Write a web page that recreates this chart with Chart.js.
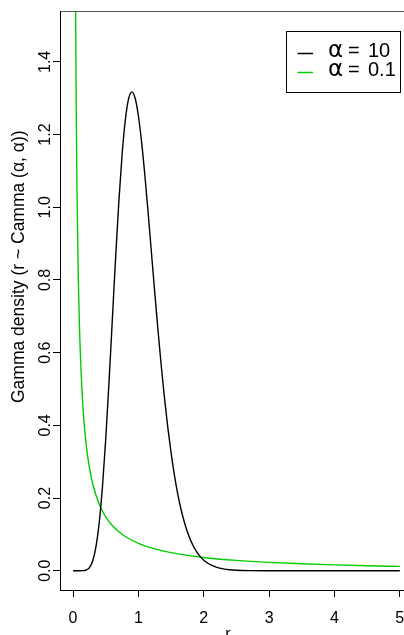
<!DOCTYPE html>
<html>
<head>
<meta charset="utf-8">
<script src="https://cdn.jsdelivr.net/npm/chart.js@4"></script>
<style>
html,body{margin:0;padding:0;background:#fff;overflow:hidden;}
canvas{display:block;}
</style>
</head>
<body>
<canvas id="c" width="404" height="635"></canvas>
<script>
// Data
const xShape10 = [0, 0.05, 0.1, 0.15, 0.2, 0.25, 0.3, 0.35, 0.4, 0.45, 0.5, 0.55, 0.6, 0.65, 0.7, 0.75, 0.8, 0.85, 0.9, 0.95, 1.0, 1.05, 1.1, 1.15, 1.2, 1.25, 1.3, 1.35, 1.4, 1.45, 1.5, 1.55, 1.6, 1.65, 1.7, 1.75, 1.8, 1.85, 1.9, 1.95, 2.0, 2.1, 2.2, 2.3, 2.4, 2.5, 2.7, 3.0, 4.0, 5.0];
const yShape10 = [0, 0, 0.00001, 0.00024, 0.0019, 0.0086, 0.0270, 0.0656, 0.1323, 0.2316, 0.3627, 0.5187, 0.6884, 0.8581, 1.0141, 1.1444, 1.2408, 1.2987, 1.3176, 1.3000, 1.2511, 1.1772, 1.0853, 0.9820, 0.8736, 0.7651, 0.6606, 0.5627, 0.4734, 0.3938, 0.3241, 0.2640, 0.2131, 0.1705, 0.1353, 0.1065, 0.0833, 0.0646, 0.0498, 0.0382, 0.0291, 0.0166, 0.0093, 0.0051, 0.0028, 0.0015, 0.0004, 0.0001, 0, 0];
const xShape01 = [0.02, 0.03, 0.035, 0.04, 0.05, 0.06, 0.08, 0.1, 0.15, 0.2, 0.25, 0.3, 0.4, 0.5, 0.6, 0.7, 0.8, 1.0, 1.25, 1.5, 2.0, 2.5, 3.0, 3.5, 4.0, 4.5, 5.0];
const yShape01 = [2.817, 1.953, 1.700, 1.507, 1.231, 1.044, 0.804, 0.657, 0.4535, 0.3483, 0.2836, 0.2394, 0.1830, 0.1482, 0.1245, 0.1073, 0.0942, 0.0755, 0.0603, 0.0499, 0.0366, 0.0285, 0.0230, 0.0191, 0.0161, 0.0138, 0.0119];
const seriesLabels = ["10", "0.1"];
const seriesColors = ["#000000", "#00CD00"];
const xTicks = [0, 1, 2, 3, 4, 5];
const yTicks = [0.0, 0.2, 0.4, 0.6, 0.8, 1.0, 1.2, 1.4];
const yTitle = "Gamma density (r ~ Camma (\u03B1, \u03B1))";
const xTitle = "r";

const FONT = "'Liberation Sans', Arial, Helvetica, sans-serif";

function pts(xs, ys) { return xs.map((x, i) => ({ x: x, y: ys[i] })); }

function noPad(s) { s.paddingLeft = 0; s.paddingRight = 0; s.paddingTop = 0; s.paddingBottom = 0; }

const decor = {
  id: 'decor',
  afterDraw(chart) {
    const ctx = chart.ctx;
    const ca = chart.chartArea;
    const ys = chart.scales.y;
    ctx.save();
    // plot box: top and left
    ctx.strokeStyle = '#555';
    ctx.lineWidth = 1;
    ctx.beginPath();
    ctx.moveTo(ca.left, ca.top + 0.5);
    ctx.lineTo(chart.width, ca.top + 0.5);
    ctx.stroke();
    ctx.strokeStyle = '#000';
    ctx.beginPath();
    ctx.moveTo(ca.left + 0.5, ca.top);
    ctx.lineTo(ca.left + 0.5, ca.bottom);
    ctx.stroke();

    // y tick labels, rotated
    ctx.fillStyle = '#000';
    ctx.font = '16px ' + FONT;
    ctx.textAlign = 'center';
    ctx.textBaseline = 'alphabetic';
    yTicks.forEach(v => {
      const py = ys.getPixelForValue(v);
      ctx.save();
      ctx.translate(50, py);
      ctx.rotate(-Math.PI / 2);
      ctx.fillText(v.toFixed(1), 0, 0);
      ctx.restore();
    });
    // y title
    ctx.save();
    ctx.translate(24, 403);
    ctx.rotate(-Math.PI / 2);
    ctx.textAlign = 'left';
    ctx.font = '17.5px ' + FONT;
    ctx.fillText(yTitle, 0, 0);
    ctx.restore();
    // x title
    ctx.font = '16px ' + FONT;
    ctx.textAlign = 'center';
    ctx.fillText(xTitle, 228, 639);

    // legend
    const lx = 286, ly = 31, lw = 114, lh = 61;
    ctx.fillStyle = '#fff';
    ctx.fillRect(lx, ly, lw, lh);
    ctx.strokeStyle = '#000';
    ctx.lineWidth = 1;
    ctx.strokeRect(lx + 0.5, ly + 0.5, lw, lh);
    const rows = [53.5, 72.5];
    rows.forEach((ry, i) => {
      ctx.strokeStyle = seriesColors[i];
      ctx.lineWidth = 1.5;
      ctx.beginPath();
      ctx.moveTo(297.5, ry);
      ctx.lineTo(313, ry);
      ctx.stroke();
      ctx.fillStyle = '#000';
      ctx.textAlign = 'left';
      ctx.font = "23px 'DejaVu Sans', sans-serif";
      ctx.fillText('\u03B1', 328, ry + 3);
      ctx.font = '20px ' + FONT;
      ctx.fillText('=', 348, ry + 3);
      ctx.fillText(seriesLabels[i], 368, ry + 3);
    });
    ctx.restore();
  }
};

new Chart(document.getElementById('c'), {
  type: 'line',
  data: {
    datasets: [
      { label: '\u03B1 = ' + seriesLabels[0], data: pts(xShape10, yShape10), borderColor: seriesColors[0], borderWidth: 1.4, pointRadius: 0, cubicInterpolationMode: 'monotone', fill: false },
      { label: '\u03B1 = ' + seriesLabels[1], data: pts(xShape01, yShape01), borderColor: seriesColors[1], borderWidth: 1.4, pointRadius: 0, cubicInterpolationMode: 'monotone', fill: false }
    ]
  },
  options: {
    responsive: false,
    animation: false,
    devicePixelRatio: 1,
    layout: { padding: { top: 11, left: 0, right: 0, bottom: 0 }, autoPadding: false },
    plugins: { legend: { display: false }, tooltip: { enabled: false } },
    scales: {
      x: {
        type: 'linear',
        min: -0.2,
        max: 5.064,
        afterBuildTicks: s => { s.ticks = xTicks.map(v => ({ value: v })); },
        afterFit: s => { s.height = 45; noPad(s); },
        grid: { drawOnChartArea: false, drawTicks: true, tickLength: 7, color: '#000', lineWidth: 1 },
        border: { display: true, color: '#000', width: 1 },
        ticks: { color: '#000', font: { family: FONT, size: 16 }, padding: 12, maxRotation: 0, autoSkip: false }
      },
      y: {
        type: 'linear',
        min: -0.053,
        max: 1.54,
        afterBuildTicks: s => { s.ticks = yTicks.map(v => ({ value: v })); },
        afterFit: s => { s.width = 60; noPad(s); },
        grid: { drawOnChartArea: false, drawTicks: true, tickLength: 7, color: '#000', lineWidth: 1 },
        border: { display: true, color: '#000', width: 1 },
        ticks: { color: 'rgba(0,0,0,0)', font: { family: FONT, size: 16 }, autoSkip: false }
      }
    }
  },
  plugins: [decor]
});
</script>
</body>
</html>
